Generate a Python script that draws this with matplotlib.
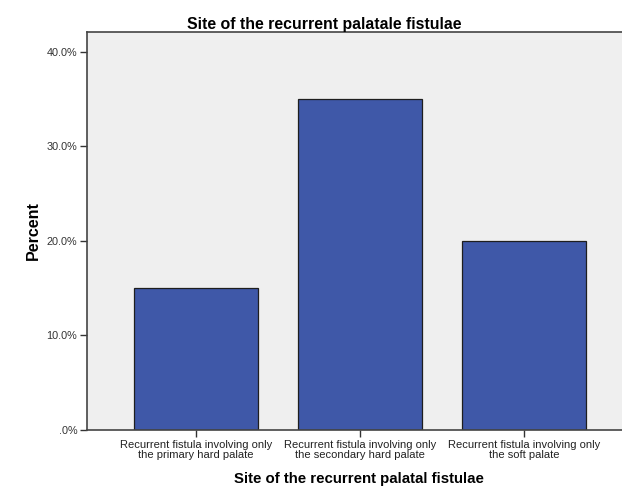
import matplotlib
matplotlib.use("Agg")
import matplotlib.pyplot as plt

categories = ["Recurrent fistula involving only\nthe primary hard palate",
              "Recurrent fistula involving only\nthe secondary hard palate",
              "Recurrent fistula involving only\nthe soft palate"]
percent = [15.0, 35.0, 20.0]
yticks = [0, 10, 20, 30, 40]
ytick_labels = [".0%", "10.0%", "20.0%", "30.0%", "40.0%"]

plt.rcParams['font.family'] = ['Liberation Sans', 'DejaVu Sans']

fig = plt.figure(figsize=(6.22, 4.95), dpi=100)
ax = fig.add_axes([87/622, 65/495, 535/622, 398/495])
ax.set_facecolor("#EFEFEF")

x = list(range(len(categories)))
ax.bar(x, percent, width=0.756, color="#3F58A8", edgecolor="#1E1E1E", linewidth=0.9, zorder=2)

ax.set_xlim(-0.665, 2.597)
ax.set_ylim(0, 42.1)
ax.set_yticks(yticks)
ax.set_yticklabels(ytick_labels, fontsize=7.8, color="#333333")
ax.set_xticks(x)
ax.set_xticklabels(categories, fontsize=8, color="#222222", linespacing=1.0)
ax.tick_params(axis='both', direction='out', length=5, width=1, color="#333333", pad=2)

for s in ['left', 'bottom', 'top']:
    ax.spines[s].set_color("#444444")
    ax.spines[s].set_linewidth(1.2)
ax.spines['right'].set_visible(False)

fig.text(33/622, 1 - 231/495, "Percent", rotation=90, ha='center', va='center',
         fontsize=11.5, fontweight='bold')
fig.text(359/622, 1 - 479/495, "Site of the recurrent palatal fistulae", ha='center', va='center',
         fontsize=10.8, fontweight='bold')
fig.text(324/622, 1 - 24/495, "Site of the recurrent palatale fistulae", ha='center', va='center',
         fontsize=11.4, fontweight='bold')

fig.savefig("out.png", dpi=100, facecolor="white")
